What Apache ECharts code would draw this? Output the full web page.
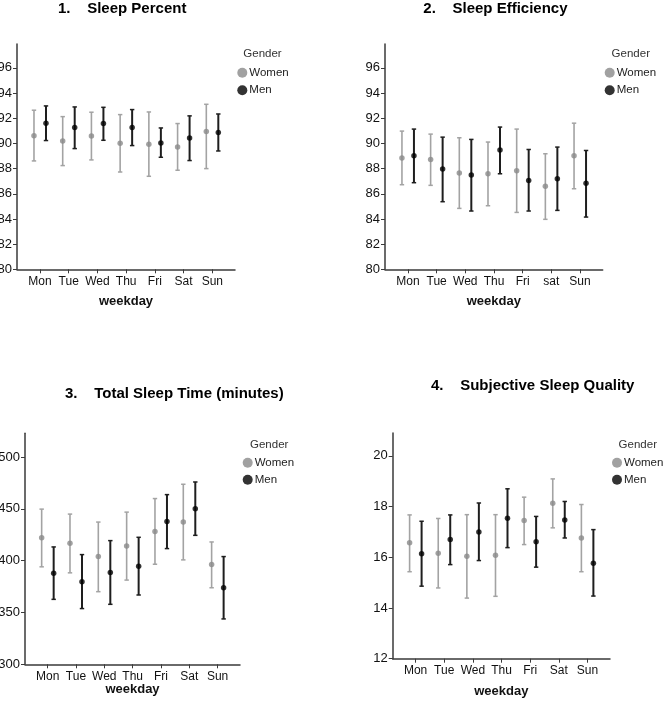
<!DOCTYPE html>
<html>
<head>
<meta charset="utf-8">
<script src="https://cdn.jsdelivr.net/npm/echarts@6/dist/echarts.min.js"></script>
<style>html,body{margin:0;padding:0;background:#fff;}#c{width:663px;height:704px;}</style>
</head>
<body>
<div id="c"></div>
<script>
// ---- Data ----
const days = ['Mon', 'Tue', 'Wed', 'Thu', 'Fri', 'Sat', 'Sun'];
const daysP2 = ['Mon', 'Tue', 'Wed', 'Thu', 'Fri', 'sat', 'Sun'];
const dayIndex = [0, 1, 2, 3, 4, 5, 6];

const panelTitles = ['1.    Sleep Percent', '2.    Sleep Efficiency', '3.    Total Sleep Time (minutes)', '4.    Subjective Sleep Quality'];

// y tick labels
const yTicksPercent = [80, 82, 84, 86, 88, 90, 92, 94, 96];
const yTicksMinutes = [300, 350, 400, 450, 500];
const yTicksQuality = [12, 14, 16, 18, 20];

// 1. Sleep Percent
const p1WomenMean = [90.62, 90.20, 90.60, 90.01, 89.93, 89.72, 90.94];
const p1WomenLow  = [88.61, 88.24, 88.69, 87.73, 87.39, 87.87, 88.00];
const p1WomenHigh = [92.64, 92.13, 92.48, 92.29, 92.50, 91.58, 93.11];
const p1MenMean   = [91.60, 91.26, 91.58, 91.26, 90.04, 90.44, 90.86];
const p1MenLow    = [90.23, 89.59, 90.25, 89.83, 88.90, 88.64, 89.40];
const p1MenHigh   = [92.98, 92.90, 92.87, 92.69, 91.23, 92.19, 92.34];

// 2. Sleep Efficiency
const p2WomenMean = [88.84, 88.73, 87.65, 87.59, 87.83, 86.59, 89.02];
const p2WomenLow  = [86.72, 86.67, 84.84, 85.05, 84.52, 83.97, 86.40];
const p2WomenHigh = [90.98, 90.74, 90.45, 90.11, 91.14, 89.18, 91.61];
const p2MenMean   = [89.02, 87.96, 87.49, 89.47, 87.06, 87.20, 86.83];
const p2MenLow    = [86.88, 85.37, 84.63, 87.59, 84.63, 84.68, 84.15];
const p2MenHigh   = [91.14, 90.50, 90.32, 91.30, 89.52, 89.71, 89.44];

// 3. Total Sleep Time (minutes)
const p3WomenMean = [422.2, 416.8, 404.0, 414.2, 428.3, 437.3, 396.3];
const p3WomenLow  = [394.1, 388.3, 370.1, 381.3, 396.6, 400.8, 373.9];
const p3WomenHigh = [449.8, 445.0, 437.3, 446.9, 460.0, 473.8, 418.1];
const p3MenMean   = [388.0, 379.7, 388.6, 394.7, 437.9, 450.1, 373.9];
const p3MenLow    = [362.7, 353.8, 357.9, 366.9, 411.7, 424.5, 343.8];
const p3MenHigh   = [413.3, 405.9, 419.4, 422.6, 463.8, 476.0, 404.0];

// 4. Subjective Sleep Quality
const p4WomenMean = [16.57, 16.16, 16.04, 16.08, 17.45, 18.13, 16.76];
const p4WomenLow  = [15.43, 14.79, 14.39, 14.46, 16.50, 17.16, 15.43];
const p4WomenHigh = [17.67, 17.53, 17.68, 17.68, 18.37, 19.09, 18.08];
const p4MenMean   = [16.14, 16.70, 17.00, 17.54, 16.61, 17.47, 15.76];
const p4MenLow    = [14.86, 15.71, 15.87, 16.38, 15.61, 16.76, 14.47];
const p4MenHigh   = [17.42, 17.67, 18.14, 18.70, 17.61, 18.20, 17.09];

// y-axis ranges [min, max]
const yRanges = [[80, 97.9], [80, 97.9], [300, 523], [12, 20.9]];

// ---- Build ----
const panels = [
  {labels: days,   ticks: yTicksPercent, wm: p1WomenMean, wl: p1WomenLow, wh: p1WomenHigh, mm: p1MenMean, ml: p1MenLow, mh: p1MenHigh},
  {labels: daysP2, ticks: yTicksPercent, wm: p2WomenMean, wl: p2WomenLow, wh: p2WomenHigh, mm: p2MenMean, ml: p2MenLow, mh: p2MenHigh},
  {labels: days,   ticks: yTicksMinutes, wm: p3WomenMean, wl: p3WomenLow, wh: p3WomenHigh, mm: p3MenMean, ml: p3MenLow, mh: p3MenHigh},
  {labels: days,   ticks: yTicksQuality, wm: p4WomenMean, wl: p4WomenLow, wh: p4WomenHigh, mm: p4MenMean, ml: p4MenLow, mh: p4MenHigh}
];

// layout (pixels)
const grids = [
  {left: 17,  top: 44,  width: 218, height: 225.3},
  {left: 385, top: 44,  width: 217.7, height: 225.3},
  {left: 25,  top: 433.3, width: 215, height: 231},
  {left: 392.7, top: 433, width: 217.3, height: 225.7}
];
const nameGaps = [26, 26, 17, 26];
const titlePos = [[58, 0.5], [423.3, 0.5], [65, 386], [431, 378]];
const genderPos = [[243.3, 47.5], [611.6, 47.5], [250, 438], [618.6, 438]];
const legendPos = [[237.3, 66.7, 5.6], [604.7, 66.7, 5.6], [242.7, 456.7, 5], [612, 456.7, 5]];

const WOMEN_BAR = '#a3a3a3', WOMEN_PT = '#8a8a8a', MEN_BAR = '#1e1e1e', MEN_PT = '#000000';
const axisColor = '#3a3a3a';

function errRender(offset, color, lw) {
  return function (params, api) {
    const x = api.value(0);
    const lo = api.coord([x, api.value(1)]);
    const hi = api.coord([x, api.value(2)]);
    const px = lo[0] + offset;
    const cap = 2.2;
    return {
      type: 'group',
      children: [
        {type: 'line', shape: {x1: px, y1: lo[1], x2: px, y2: hi[1]}, style: {stroke: color, lineWidth: lw}},
        {type: 'line', shape: {x1: px - cap, y1: lo[1], x2: px + cap, y2: lo[1]}, style: {stroke: color, lineWidth: 1.5}},
        {type: 'line', shape: {x1: px - cap, y1: hi[1], x2: px + cap, y2: hi[1]}, style: {stroke: color, lineWidth: 1.5}}
      ]
    };
  };
}

const option = {
  animation: false,
  backgroundColor: '#ffffff',
  textStyle: {fontFamily: 'Liberation Sans, Arial, sans-serif'},
  title: [],
  legend: [],
  grid: [],
  xAxis: [],
  yAxis: [],
  series: []
};

panels.forEach((p, k) => {
  option.title.push({
    text: panelTitles[k], left: titlePos[k][0], top: titlePos[k][1], padding: 0,
    textStyle: {fontFamily: 'Liberation Sans', fontWeight: 'bold', fontSize: 15, lineHeight: 16, color: '#000'}
  });
  option.title.push({
    text: 'Gender', left: genderPos[k][0], top: genderPos[k][1], padding: 0,
    textStyle: {fontFamily: 'Liberation Sans', fontWeight: 'normal', fontSize: 11.5, lineHeight: 13, color: '#333'}
  });
  option.legend.push({
    data: ['Women', 'Men'], orient: 'vertical', left: legendPos[k][0], top: legendPos[k][1],
    itemWidth: 10, itemHeight: 10, itemGap: legendPos[k][2], padding: 0, icon: 'circle',
    selectedMode: false,
    textStyle: {fontFamily: 'Liberation Sans', fontSize: 11.5, color: '#222', padding: [0, 0, 0, -3]}
  });
  option.grid.push(Object.assign({containLabel: false, outerBoundsMode: 'none'}, grids[k]));
  const labels = p.labels;
  option.xAxis.push({
    type: 'value', gridIndex: k, min: -0.8, max: 6.79,
    name: 'weekday', nameLocation: 'middle', nameGap: nameGaps[k],
    nameTextStyle: {fontFamily: 'Liberation Sans', fontWeight: 'bold', fontSize: 13, color: '#111'},
    axisLine: {show: true, onZero: false, lineStyle: {color: axisColor, width: 1.5}},
    axisTick: {show: true, length: 4, customValues: dayIndex, lineStyle: {color: axisColor, width: 1}},
    axisLabel: {show: true, margin: 6, customValues: dayIndex, fontSize: 12, color: '#111',
      fontFamily: 'Liberation Sans', formatter: v => labels[Math.round(v)]},
    splitLine: {show: false}
  });
  option.yAxis.push({
    type: 'value', gridIndex: k, min: yRanges[k][0], max: yRanges[k][1],
    axisLine: {show: true, onZero: false, lineStyle: {color: axisColor, width: 1.5}},
    axisTick: {show: true, length: 4, customValues: p.ticks, lineStyle: {color: axisColor, width: 1}},
    axisLabel: {show: true, margin: 5, customValues: p.ticks, fontSize: 13, color: '#111', fontFamily: 'Liberation Sans'},
    splitLine: {show: false}
  });
  const wErr = dayIndex.map(i => [i, p.wl[i], p.wh[i]]);
  const mErr = dayIndex.map(i => [i, p.ml[i], p.mh[i]]);
  option.series.push({
    name: 'Women 95% CI', type: 'custom', xAxisIndex: k, yAxisIndex: k,
    renderItem: errRender(-6, WOMEN_BAR, 1.6), data: wErr, silent: true, z: 2
  });
  option.series.push({
    name: 'Men 95% CI', type: 'custom', xAxisIndex: k, yAxisIndex: k,
    renderItem: errRender(6, MEN_BAR, 2), data: mErr, silent: true, z: 2
  });
  option.series.push({
    name: 'Women', type: 'scatter', xAxisIndex: k, yAxisIndex: k,
    data: dayIndex.map(i => [i, p.wm[i]]), symbol: 'circle', symbolSize: 5.5,
    symbolOffset: [-6, 0], itemStyle: {color: WOMEN_PT}, z: 3
  });
  option.series.push({
    name: 'Men', type: 'scatter', xAxisIndex: k, yAxisIndex: k,
    data: dayIndex.map(i => [i, p.mm[i]]), symbol: 'circle', symbolSize: 5.5,
    symbolOffset: [6, 0], itemStyle: {color: MEN_PT}, z: 3
  });
});

const chart = echarts.init(document.getElementById('c'), null, {renderer: 'canvas'});
chart.setOption(option);
</script>
</body>
</html>
